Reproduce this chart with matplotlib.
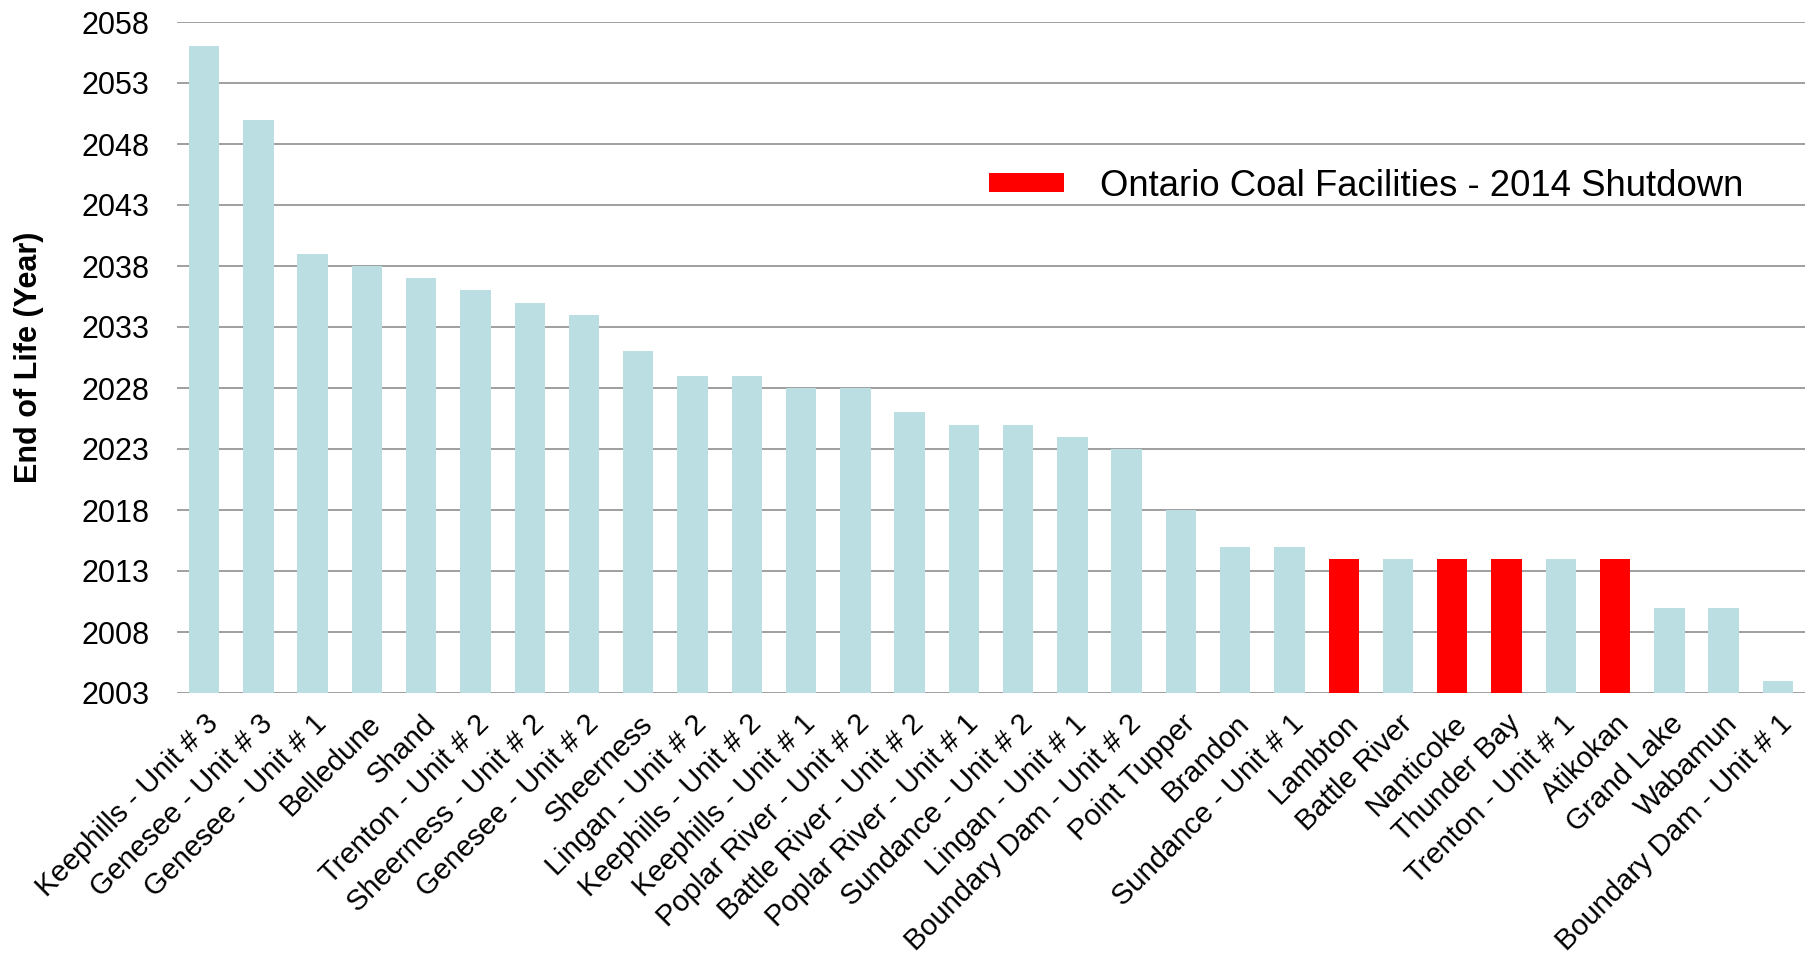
import numpy as np
import matplotlib.pyplot as plt
from matplotlib.patches import Patch

plt.rcParams['font.family'] = ['Liberation Sans', 'DejaVu Sans']

plants = ["Keephills - Unit # 3", "Genesee - Unit # 3", "Genesee - Unit # 1", "Belledune",
          "Shand", "Trenton - Unit # 2", "Sheerness - Unit # 2", "Genesee - Unit # 2",
          "Sheerness", "Lingan - Unit # 2", "Keephills - Unit # 2", "Keephills - Unit # 1",
          "Poplar River - Unit # 2", "Battle River - Unit # 2", "Poplar River - Unit # 1",
          "Sundance - Unit # 2", "Lingan - Unit # 1", "Boundary Dam - Unit # 2",
          "Point Tupper", "Brandon", "Sundance - Unit # 1", "Lambton", "Battle River",
          "Nanticoke", "Thunder Bay", "Trenton - Unit # 1", "Atikokan", "Grand Lake",
          "Wabamun", "Boundary Dam - Unit # 1"]
end_year = [2056, 2050, 2039, 2038, 2037, 2036, 2035, 2034, 2031, 2029, 2029, 2028,
            2028, 2026, 2025, 2025, 2024, 2023, 2018, 2015, 2015, 2014, 2014, 2014,
            2014, 2014, 2014, 2010, 2010, 2004]
ontario = ["Lambton", "Nanticoke", "Thunder Bay", "Atikokan"]
yticks = np.arange(2003, 2059, 5)

colors = ['#FF0000' if p in ontario else '#BADEE2' for p in plants]

fig = plt.figure(figsize=(18.1, 9.56), dpi=100)
ax = fig.add_axes([177/1810, 1 - 693/956, (1805 - 177)/1810, (693 - 22)/956])

x = np.arange(len(plants))
ax.bar(x, end_year, width=0.56, color=colors, zorder=2)

ax.set_ylim(2003, 2058)
ax.set_xlim(-0.5, len(plants) - 0.5)
ax.set_yticks(yticks)
ax.set_yticklabels([str(t) for t in yticks], fontsize=22)
ax.set_xticks(x)
ax.set_xticklabels(plants, rotation=45, ha='right', rotation_mode='anchor', fontsize=21)
ax.tick_params(axis='y', length=0, pad=20)
ax.tick_params(axis='x', length=0, pad=12)
ax.yaxis.grid(True, color='#8f8f8f', linewidth=1.2, zorder=1)
ax.set_axisbelow(True)
for s in ax.spines.values():
    s.set_visible(False)

ax.set_ylabel("End of Life (Year)", fontsize=22, fontweight='bold')
ax.yaxis.set_label_coords(-0.082, 0.5)

handle = Patch(facecolor='#FF0000', edgecolor='none')
fig.legend([handle], ["Ontario Coal Facilities - 2014 Shutdown"], loc='center left',
           bbox_to_anchor=(989/1810, 1 - 186/956), frameon=False, fontsize=26.3,
           borderpad=0, borderaxespad=0, handlelength=2.05, handleheight=0.45,
           handletextpad=1.0)

fig.savefig("out.png", dpi=100)
